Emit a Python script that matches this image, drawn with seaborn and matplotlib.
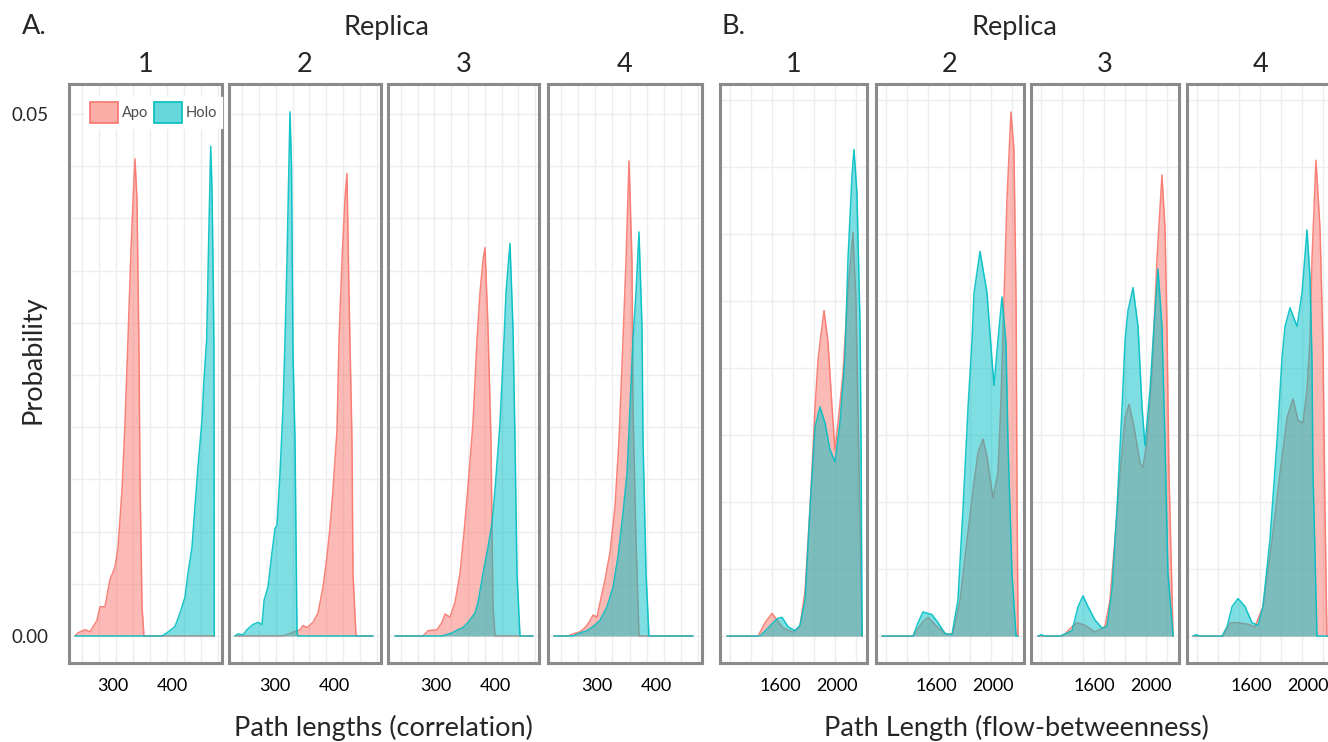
#!/usr/bin/env python3
import numpy as np
import pandas as pd
import seaborn as sns
import matplotlib.pyplot as plt
from matplotlib.colors import to_rgba
from matplotlib.patches import Patch

W, H = 1328, 742
APO_COLOR = "#F8766D"
HOLO_COLOR = "#00BFC4"
STATES = ["Apo", "Holo"]
REPLICAS = ["1", "2", "3", "4"]

# ---- A. path lengths (correlation), density per replica ----
A1_APO_X = [235.6, 240.7, 252.5, 261, 272.9, 278, 286.4, 294.9, 303.4, 308.5, 315.3, 320.3,
            325.4, 330.5, 334.7, 337.3, 340.7, 344.1, 345.8, 349.2, 352.5, 471.7]
A1_APO_Y = [0, 0.0003, 0.0006, 0.0004, 0.0015, 0.0028, 0.0028, 0.0054, 0.0066, 0.0085, 0.0140, 0.0204,
            0.0284, 0.0370, 0.0427, 0.0457, 0.0418, 0.0271, 0.0150, 0.0028, 0, 0]
A1_HOLO_X = [235.6, 383.1, 391.5, 405.1, 413.6, 422, 427.1, 433.9, 439, 444.1, 450.9, 454.2,
             458.8, 462.7, 465.6, 467.8, 470, 471.2, 471.7]
A1_HOLO_Y = [0, 0, 0.0003, 0.0009, 0.0022, 0.0037, 0.0060, 0.0085, 0.0124, 0.0162, 0.0207, 0.0245,
             0.0284, 0.0392, 0.0469, 0.0430, 0.0340, 0.0271, 0]

A2_APO_X = [232.2, 313.6, 342.4, 347.5, 354.2, 364.4, 372.9, 381.4, 388.1, 393.2, 398.3, 405.1,
            408.5, 413.6, 418.7, 422, 425.4, 430.5, 432.2, 437.3, 466.1]
A2_APO_Y = [0, 0, 0.0006, 0.0010, 0.0008, 0.0013, 0.0022, 0.0047, 0.0076, 0.0104, 0.0140, 0.0197,
            0.0284, 0.0360, 0.0420, 0.0443, 0.0329, 0.0188, 0.0060, 0, 0]
A2_HOLO_X = [232.2, 237.3, 245.8, 252.5, 262.7, 271.2, 278, 281.4, 288.1, 294.9, 300, 303.4,
             308.5, 313.6, 317, 320.3, 325.4, 328, 330.5, 333.9, 337.3, 339, 466.1]
A2_HOLO_Y = [0, 0.0002, 0.0001, 0.0006, 0.0011, 0.0013, 0.0011, 0.0034, 0.0047, 0.0080, 0.0103, 0.0106,
             0.0156, 0.0219, 0.0284, 0.0360, 0.0502, 0.0450, 0.0271, 0.0188, 0.0003, 0, 0]

A3_APO_X = [230.5, 278, 286.4, 301.7, 310.2, 315.3, 323.7, 332.2, 340.7, 347.5, 354.2, 362.7,
            369.5, 374.6, 379.7, 383.1, 388.1, 393.2, 394.9, 396.6, 400, 464.4]
A3_APO_Y = [0, 0, 0.0005, 0.0006, 0.0013, 0.0021, 0.0018, 0.0032, 0.0060, 0.0099, 0.0143, 0.0204,
            0.0284, 0.0329, 0.0360, 0.0372, 0.0296, 0.0188, 0.0104, 0.0028, 0, 0]
A3_HOLO_X = [230.5, 310.2, 327.1, 337.3, 345.8, 354.2, 366.1, 371.2, 379.7, 388.1, 394.9, 400,
             408.5, 415.3, 418.7, 425.4, 430.5, 433.9, 437.3, 442.4, 464.4]
A3_HOLO_Y = [0, 0, 0.0003, 0.0006, 0.0008, 0.0013, 0.0022, 0.0032, 0.0060, 0.0085, 0.0108, 0.0140,
             0.0204, 0.0284, 0.0329, 0.0376, 0.0296, 0.0188, 0.0060, 0, 0]

A4_APO_X = [227.1, 250.8, 259.3, 271.2, 279.7, 286.4, 293.2, 300, 305.1, 313.6, 322, 330.5,
            337.3, 344.1, 349.2, 354.2, 359.3, 361, 366.1, 371.2, 462.7]
A4_APO_Y = [0, 0, 0.0002, 0.0004, 0.0008, 0.0013, 0.0020, 0.0018, 0.0032, 0.0054, 0.0080, 0.0124,
            0.0188, 0.0284, 0.0360, 0.0455, 0.0360, 0.0219, 0.0092, 0, 0]
A4_HOLO_X = [227.1, 259.3, 271.2, 283, 293.2, 305.1, 317, 327.1, 335.6, 344.1, 350.9, 355.9,
             361, 366.1, 371.2, 376.3, 378, 383.1, 388.1, 462.7]
A4_HOLO_Y = [0, 0, 0.0003, 0.0005, 0.0009, 0.0015, 0.0028, 0.0047, 0.0076, 0.0118, 0.0156, 0.0219,
             0.0284, 0.0329, 0.0387, 0.0296, 0.0188, 0.0060, 0, 0]

# ---- B. path length (flow-betweenness), density per replica ----
B1_APO_X = [1228, 1446, 1495, 1544, 1579, 1621, 1691, 1740, 1776, 1811, 1846, 1867,
            1881, 1909, 1937, 1965, 1986, 2007, 2042, 2077, 2112, 2133, 2155, 2176]
B1_APO_Y = [0, 0, 0.00010, 0.00017, 0.00012, 0.00006, 0.00003, 0.00007, 0.00034, 0.00096, 0.00171, 0.00206,
            0.00219, 0.00243, 0.00219, 0.00171, 0.00139, 0.00159, 0.00196, 0.00258, 0.00301, 0.00251, 0.00122, 0]
B1_HOLO_X = [1228, 1460, 1516, 1579, 1614, 1656, 1705, 1740, 1776, 1811, 1846, 1881,
             1916, 1951, 1986, 2021, 2056, 2077, 2105, 2119, 2140, 2162, 2169, 2176]
B1_HOLO_Y = [0, 0, 0.00006, 0.00013, 0.00014, 0.00007, 0.00004, 0.00008, 0.00027, 0.00096, 0.00156, 0.00171,
             0.00159, 0.00139, 0.00130, 0.00159, 0.00208, 0.00281, 0.00343, 0.00363, 0.00331, 0.00231, 0.00146, 0]

B2_APO_X = [1221, 1439, 1502, 1544, 1607, 1677, 1719, 1769, 1818, 1860, 1895, 1930,
            1958, 2000, 2035, 2056, 2077, 2098, 2126, 2147, 2162, 2169, 2176]
B2_APO_Y = [0, 0, 0.00010, 0.00014, 0.00007, 0.00001, 0.00002, 0.00027, 0.00072, 0.00109, 0.00137, 0.00147,
            0.00134, 0.00103, 0.00122, 0.00176, 0.00251, 0.00325, 0.00391, 0.00363, 0.00251, 0.00101, 0]
B2_HOLO_X = [1221, 1439, 1474, 1509, 1572, 1614, 1663, 1712, 1754, 1790, 1825, 1853,
             1867, 1909, 1958, 1993, 2007, 2035, 2063, 2091, 2105, 2133, 2162, 2176]
B2_HOLO_Y = [0, 0, 0.00010, 0.00018, 0.00016, 0.00010, 0.00002, 0.00001, 0.00027, 0.00096, 0.00171, 0.00221,
             0.00256, 0.00287, 0.00256, 0.00206, 0.00187, 0.00221, 0.00253, 0.00219, 0.00146, 0.00047, 0, 0]

B3_APO_X = [1207, 1383, 1446, 1481, 1537, 1607, 1677, 1712, 1747, 1783, 1818, 1846,
            1881, 1923, 1944, 1972, 2007, 2042, 2077, 2098, 2112, 2126, 2155]
B3_APO_Y = [0, 0, 0.00007, 0.00010, 0.00008, 0.00003, 0.00007, 0.00027, 0.00072, 0.00122, 0.00163, 0.00173,
            0.00156, 0.00129, 0.00126, 0.00146, 0.00196, 0.00281, 0.00344, 0.00305, 0.00231, 0.00122, 0]
B3_HOLO_X = [1207, 1228, 1256, 1361, 1446, 1488, 1523, 1558, 1607, 1656, 1691, 1726, 1762, 1797,
             1818, 1839, 1874, 1909, 1937, 1958, 1993, 2021, 2049, 2077, 2098, 2119, 2155]
B3_HOLO_Y = [0, 0.00001, 0, 0, 0.00004, 0.00022, 0.00030, 0.00022, 0.00012, 0.00006, 0.00007, 0.00034, 0.00096,
             0.00171, 0.00221, 0.00243, 0.00260, 0.00231, 0.00171, 0.00142, 0.00184, 0.00231, 0.00274,
             0.00231, 0.00146, 0.00047, 0]

B4_APO_X = [1193, 1404, 1453, 1502, 1572, 1628, 1684, 1748, 1804, 1853, 1895, 1930,
            1965, 1993, 2014, 2028, 2056, 2084, 2105, 2119, 2133, 2155]
B4_APO_Y = [0, 0, 0.00010, 0.00010, 0.00009, 0.00007, 0.00022, 0.00072, 0.00122, 0.00163, 0.00177, 0.00161,
            0.00159, 0.00184, 0.00221, 0.00281, 0.00355, 0.00305, 0.00219, 0.00096, 0, 0]
B4_HOLO_X = [1193, 1214, 1242, 1397, 1432, 1467, 1509, 1558, 1607, 1649, 1684, 1733,
             1783, 1818, 1839, 1874, 1923, 1958, 1993, 2014, 2028, 2035, 2063, 2155]
B4_HOLO_Y = [0, 0.00001, 0, 0, 0.00007, 0.00022, 0.00028, 0.00022, 0.00010, 0.00008, 0.00022, 0.00072,
             0.00146, 0.00208, 0.00231, 0.00245, 0.00231, 0.00256, 0.00303, 0.00268, 0.00206, 0.00122, 0, 0]

A_TICKS = [300, 400]
B_TICKS = [1600, 2000]

# facet boxes in pixels (left, right) and their x ranges
A_AXES = [(69, 222), (229, 381), (388, 539), (548, 702)]
A_XLIM = [(225.4, 484.8), (222.0, 479.7), (218.6, 474.6), (216.9, 478.0)]
B_AXES = [(720, 867), (876, 1024), (1031, 1179), (1187, 1335)]
B_XLIM = [(1178.9, 2210.6), (1178.9, 2217.6), (1157.9, 2196.5), (1150.8, 2189.5)]
A_YLIM = (-0.00259, 0.05287)
B_YLIM = (-0.000201, 0.004119)
TOP, BOTTOM = 84, 663

curves = [
    ("A", "1", "Apo", A1_APO_X, A1_APO_Y), ("A", "1", "Holo", A1_HOLO_X, A1_HOLO_Y),
    ("A", "2", "Apo", A2_APO_X, A2_APO_Y), ("A", "2", "Holo", A2_HOLO_X, A2_HOLO_Y),
    ("A", "3", "Apo", A3_APO_X, A3_APO_Y), ("A", "3", "Holo", A3_HOLO_X, A3_HOLO_Y),
    ("A", "4", "Apo", A4_APO_X, A4_APO_Y), ("A", "4", "Holo", A4_HOLO_X, A4_HOLO_Y),
    ("B", "1", "Apo", B1_APO_X, B1_APO_Y), ("B", "1", "Holo", B1_HOLO_X, B1_HOLO_Y),
    ("B", "2", "Apo", B2_APO_X, B2_APO_Y), ("B", "2", "Holo", B2_HOLO_X, B2_HOLO_Y),
    ("B", "3", "Apo", B3_APO_X, B3_APO_Y), ("B", "3", "Holo", B3_HOLO_X, B3_HOLO_Y),
    ("B", "4", "Apo", B4_APO_X, B4_APO_Y), ("B", "4", "Holo", B4_HOLO_X, B4_HOLO_Y),
]
frames = []
for panel, rep, state, xs, ys in curves:
    frames.append(pd.DataFrame({"panel": panel, "replica": rep, "state": state, "x": xs, "y": ys}))
df = pd.concat(frames, ignore_index=True)

sns.set_theme(style="white")
plt.rcParams["font.family"] = ["Lato", "DejaVu Sans"]

fig = plt.figure(figsize=(W / 100, H / 100), dpi=100)
fig.patch.set_facecolor("white")


def fig_rect(left, right):
    return [left / W, 1 - BOTTOM / H, (right - left) / W, (BOTTOM - TOP) / H]


def ftext(x, y, s, **kw):
    fig.text(x / W, 1 - y / H, s, **kw)


colors = {"Apo": APO_COLOR, "Holo": HOLO_COLOR}
BIG = 19.5


def draw_panel(panel, boxes, xlims, ylim, ticks, grid_start, grid_n, ystep):
    for i, rep in enumerate(REPLICAS):
        ax = fig.add_axes(fig_rect(*boxes[i]))
        sub = df[(df.panel == panel) & (df.replica == rep)]
        for k, state in enumerate(STATES):
            s = sub[sub.state == state]
            ax.fill_between(s.x, 0, s.y, color=colors[state], alpha=0.5, lw=0, zorder=3 + 2 * k)
            sns.lineplot(data=s, x="x", y="y", color=colors[state], estimator=None, sort=False,
                         lw=1.1, alpha=0.9, ax=ax, zorder=4 + 2 * k)
        x0, x1 = xlims[i]
        w = x1 - x0
        ax.set_xlim(x0, x1)
        ax.set_ylim(*ylim)
        ax.set_xlabel("")
        ax.set_ylabel("")
        ax.set_axisbelow(True)
        ax.set_xticks([x0 + (grid_start + j / grid_n) * w for j in range(grid_n)], minor=True)
        ax.set_xticks(ticks)
        ax.set_xticklabels([str(t) for t in ticks], fontsize=13, color="black")
        ax.set_yticks(np.arange(0, ylim[1], 2 * ystep))
        ax.set_yticks(np.arange(ystep, ylim[1], 2 * ystep), minor=True)
        ax.grid(True, which="minor", axis="x", color="#EDEDED", lw=1.0)
        ax.grid(True, which="both", axis="y", color="#EDEDED", lw=1.0)
        ax.tick_params(axis="x", which="both", length=0, pad=11)
        ax.tick_params(axis="y", which="minor", length=0)
        if i == 0:
            ax.tick_params(axis="y", which="major", length=3, width=1, color="#555555", pad=12)
            if panel == "A":
                labels = ["0.00"] + [""] * (len(ax.get_yticks()) - 2) + ["0.05"]
                ax.set_yticklabels(labels, fontsize=13.5)
            else:
                ax.set_yticklabels([])
        else:
            ax.tick_params(axis="y", which="major", length=0, labelleft=False)
        for sp in ax.spines.values():
            sp.set_color("#8A8A8A")
            sp.set_linewidth(2.2)
        l, r = boxes[i]
        ftext((l + min(r, W + 7)) / 2, 65, rep, fontsize=BIG, ha="center", va="center")
        if panel == "A" and i == 0:
            handles = [Patch(facecolor=to_rgba(colors[s], 0.6), edgecolor=colors[s], lw=1.2, label=s)
                       for s in STATES]
            ax.legend(handles=handles, loc="upper left", bbox_to_anchor=(78 / W, 1 - 90 / H),
                      bbox_transform=fig.transFigure, ncol=2, fontsize=10.5, frameon=True,
                      facecolor="white", edgecolor="white", framealpha=1, fancybox=False,
                      handlelength=1.9, handleheight=1.8, handletextpad=0.25, columnspacing=0.4,
                      borderpad=0.35, labelcolor="#4D4D4D")


draw_panel("A", A_AXES, A_XLIM, A_YLIM, A_TICKS, 0.085, 9, 0.005)
draw_panel("B", B_AXES, B_XLIM, B_YLIM, B_TICKS, 0.065, 7, 0.0005)

ftext(22, 27, "A.", fontsize=BIG, ha="left", va="center")
ftext(386, 27, "Replica", fontsize=BIG, ha="center", va="center")
ftext(722, 27, "B.", fontsize=BIG, ha="left", va="center")
ftext(1014, 27, "Replica", fontsize=BIG, ha="center", va="center")
ftext(33, 360, "Probability", fontsize=BIG, ha="center", va="center", rotation=90)
ftext(383, 728, "Path lengths (correlation)", fontsize=BIG, ha="center", va="center")
ftext(1016, 728, "Path Length (flow-betweenness)", fontsize=BIG, ha="center", va="center")

fig.savefig("out.png", dpi=100, facecolor="white")
